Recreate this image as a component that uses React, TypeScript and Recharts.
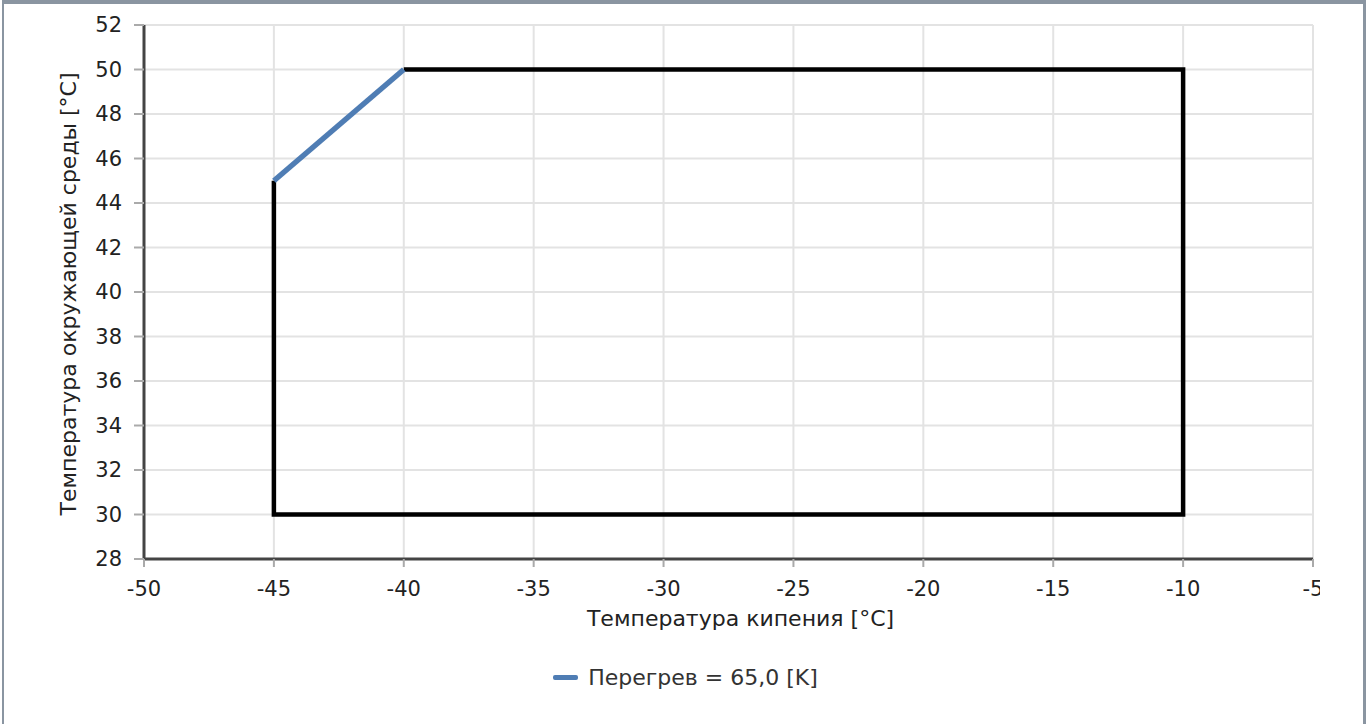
import React from "react";
import { LineChart, Line, XAxis, YAxis, CartesianGrid, Legend } from "recharts";

// boiling temperature (x) vs ambient temperature (y)
const superheatX = [-45, -40];
const superheatY = [45, 50];
const envelopeX = [-40, -10, -10, -45, -45];
const envelopeY = [50, 50, 30, 30, 45];
const xTicks = [-50, -45, -40, -35, -30, -25, -20, -15, -10, -5];
const yTicks = [28, 30, 32, 34, 36, 38, 40, 42, 44, 46, 48, 50, 52];
const seriesName = "Перегрев = 65,0 [K]";
const xTitle = "Температура кипения [°C]";
const yTitle = "Температура окружающей среды [°C]";

const superheatData = superheatX.map((x, i) => ({ x, y: superheatY[i] }));
const envelopeData = envelopeX.map((x, i) => ({ x, y: envelopeY[i] }));

const FONT = "'DejaVu Sans', Verdana, sans-serif";
const tickStyle = { fill: "#222", fontSize: 21, fontFamily: FONT };

function LegendContent({ payload }: any) {
  const items = (payload || []).filter((p: any) => p.type !== "none");
  return (
    <div style={{ display: "flex", justifyContent: "center", alignItems: "center", height: 24, fontFamily: FONT, fontSize: 22, color: "#333" }}>
      {items.map((p: any) => (
        <div key={p.value} style={{ display: "flex", alignItems: "center" }}>
          <span style={{ display: "inline-block", width: 25, height: 5, background: p.color, borderRadius: 2, marginRight: 10 }} />
          <span>{p.value}</span>
        </div>
      ))}
    </div>
  );
}

export default function App() {
  return (
    <div style={{ position: "absolute", left: 0, top: 0, width: 1371, height: 724, background: "#fff" }}>
      <div style={{ position: "absolute", left: 2, top: 0, width: 1364, height: 724, borderTop: "4px solid #8a95a1", borderLeft: "2px solid #8a95a1", borderRight: "3px solid #8a95a1", boxSizing: "border-box" }} />
      <div style={{ position: "absolute", left: 0, top: 0, width: 1320, height: 724, overflow: "hidden" }}>
        <LineChart width={1371} height={724} margin={{ top: 25, right: 58, bottom: 71, left: 0 }}>
          <CartesianGrid stroke="#e3e3e3" strokeWidth={2} />
          <XAxis
            type="number"
            dataKey="x"
            domain={[-50, -5]}
            ticks={xTicks}
            interval={0}
            allowDataOverflow
            height={70}
            stroke="#444"
            strokeWidth={3}
            tickLine={{ stroke: "#aaa", strokeWidth: 2 }}
            tickSize={8}
            tickMargin={14}
            tick={tickStyle}
            label={{ value: xTitle, position: "insideBottom", offset: 3, dx: 12, fill: "#222", fontSize: 22, fontFamily: FONT }}
          />
          <YAxis
            type="number"
            dataKey="y"
            domain={[28, 52]}
            ticks={yTicks}
            interval={0}
            allowDataOverflow
            width={144}
            stroke="#444"
            strokeWidth={3}
            tickLine={{ stroke: "#aaa", strokeWidth: 2 }}
            tickSize={10}
            tickMargin={12}
            tick={tickStyle}
            label={{ value: yTitle, angle: -90, position: "center", dx: -4, dy: 2, fill: "#222", fontSize: 22, fontFamily: FONT }}
          />
          <Legend verticalAlign="bottom" wrapperStyle={{ top: 665, left: 0, width: 1371 }} content={<LegendContent />} />
          <Line
            data={envelopeData}
            dataKey="y"
            type="linear"
            stroke="#000"
            strokeWidth={4.5}
            dot={false}
            activeDot={false}
            legendType="none"
            isAnimationActive={false}
          />
          <Line
            data={superheatData}
            dataKey="y"
            name={seriesName}
            type="linear"
            stroke="#4f7db4"
            strokeWidth={5.5}
            dot={false}
            activeDot={false}
            isAnimationActive={false}
          />
        </LineChart>
      </div>
    </div>
  );
}
